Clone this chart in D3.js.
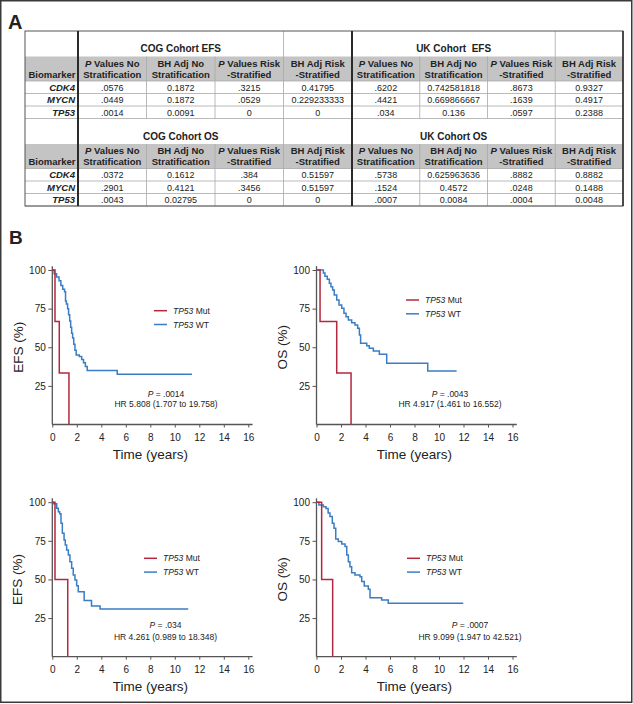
<!DOCTYPE html>
<html><head><meta charset="utf-8">
<script src="https://cdn.jsdelivr.net/npm/d3@7"></script>
<style>
body{margin:0;background:#fff}
svg{display:block}
text{font-family:"Liberation Sans",Arial,sans-serif;fill:#222}
</style>
</head><body>
<svg id="c" width="633" height="704"></svg>
<script>
// ---------- DATA ----------
const biomarkers = ["CDK4", "MYCN", "TP53"];
const colHeaders = [["P Values No", "Stratification"], ["BH Adj No", "Stratification"], ["P Values Risk", "-Stratified"], ["BH Adj Risk", "-Stratified"]];
const italicP = [true, false, true, false];
const cohortTitles = [["COG Cohort EFS", "UK Cohort\u00a0 EFS"], ["COG Cohort OS", "UK Cohort OS"]];
const cogEFS = [[".0576", "0.1872", ".3215", "0.41795"], [".0449", "0.1872", ".0529", "0.229233333"], [".0014", "0.0091", "0", "0"]];
const ukEFS = [[".6202", "0.742581818", ".8673", "0.9327"], [".4421", "0.669866667", ".1639", "0.4917"], [".034", "0.136", ".0597", "0.2388"]];
const cogOS = [[".0372", "0.1612", ".384", "0.51597"], [".2901", "0.4121", ".3456", "0.51597"], [".0043", "0.02795", "0", "0"]];
const ukOS = [[".5738", "0.625963636", ".8882", "0.8882"], [".1524", "0.4572", ".0248", "0.1488"], [".0007", "0.0084", ".0004", "0.0048"]];

const xTicks = [0, 2, 4, 6, 8, 10, 12, 14, 16];
const yTicks = [25, 50, 75, 100];
const groupNames = ["Mut", "WT"];

// Kaplan-Meier steps: event times (years) and survival (%) after each step; last WT entry = end of follow-up
const efsCogMutT = [0.22, 0.57, 1.36];
const efsCogMutS = [66.7, 33.3, 0];
const efsCogWtT = [0.15, 0.35, 0.55, 0.7, 0.85, 1.0, 1.08, 1.15, 1.25, 1.33, 1.42, 1.5, 1.58, 1.66, 1.75, 1.85, 1.95, 2.2, 2.4, 2.55, 2.7, 2.85, 5.3, 11.4];
const efsCogWtS = [97.5, 95.5, 93, 90, 87.5, 86, 80, 78, 75, 71, 67, 63, 59, 56, 52, 48, 45, 44, 42, 40, 37.5, 35, 32.5, 32.5];

const osCogMutT = [0.29, 1.65, 2.82];
const osCogMutS = [66.7, 33.3, 0];
const osCogWtT = [0.56, 0.69, 0.88, 1.05, 1.18, 1.32, 1.45, 1.65, 1.84, 2.06, 2.24, 2.41, 2.6, 2.87, 3.14, 3.36, 3.5, 3.6, 4.1, 4.31, 4.64, 5.13, 5.73, 9.08, 11.44];
const osCogWtS = [98, 96, 94, 91.4, 89.2, 87, 83.8, 80.6, 77.4, 75.2, 72, 69.8, 67.7, 65.9, 64.4, 62.3, 58, 52.6, 50.9, 49.4, 47.6, 45.5, 39.7, 34.7, 34.7];

const efsUkMutT = [0.22, 1.26];
const efsUkMutS = [50, 0];
const efsUkWtT = [0.1, 0.36, 0.49, 0.6, 0.71, 0.82, 0.96, 1.06, 1.17, 1.31, 1.44, 1.58, 1.71, 1.85, 1.99, 2.12, 2.6, 3.2, 3.9, 11.1];
const efsUkWtS = [99, 96.1, 93.9, 92.5, 86.4, 79.9, 75.6, 72.3, 69.1, 65.9, 61.5, 57.2, 52.9, 49.7, 46, 42, 36.3, 32.8, 30.9, 30.9];

const osUkMutT = [0.42, 1.32];
const osUkMutS = [50, 0];
const osUkWtT = [0.2, 0.56, 0.78, 0.95, 1.1, 1.29, 1.43, 1.57, 1.78, 2.06, 2.33, 2.47, 2.6, 2.73, 2.87, 3.14, 3.55, 3.69, 3.9, 4.23, 4.37, 5.32, 5.86, 11.98];
const osUkWtS = [98.2, 97.1, 96, 93, 90.7, 86.4, 83.2, 76.2, 74.5, 73, 71.3, 65.9, 61.5, 58.3, 54.4, 52.9, 51.8, 48.6, 45.8, 43.6, 38.2, 36.7, 34.6, 34.6];

const plotYLabels = ["EFS (%)", "OS (%)", "EFS (%)", "OS (%)"];
const plotP = [".0014", ".0043", ".034", ".0007"];
const plotHR = ["HR 5.808 (1.707 to 19.758)", "HR 4.917 (1.461 to 16.552)", "HR 4.261 (0.989 to 18.348)", "HR 9.099 (1.947 to 42.521)"];

// ---------- DRAW ----------
const svg = d3.select("#c");
const RED = "#b3283e", BLUE = "#3a7dc2";

svg.append("rect").attr("x", 0.75).attr("y", 0.75).attr("width", 631).attr("height", 701.5)
  .attr("fill", "#fff").attr("stroke", "#3a3a3a").attr("stroke-width", 1.5);

svg.append("text").attr("x", 8).attr("y", 29).attr("font-size", 20).attr("font-weight", "bold").text("A");
svg.append("text").attr("x", 9).attr("y", 244).attr("font-size", 19).attr("font-weight", "bold").text("B");

// ---- table ----
const T = {left: 25, bio: 78, mid: 352, right: 623, top: 31, titleH: 25.5, headH: 24.5, rowH: 12.5};
const cogX = d3.scaleBand().domain(d3.range(4)).range([T.bio, T.mid]);
const ukX = d3.scaleBand().domain(d3.range(4)).range([T.mid, T.right]);
const sections = [[cogEFS, ukEFS], [cogOS, ukOS]];
const secH = T.titleH + T.headH + T.rowH * biomarkers.length;
const tbl = svg.append("g");

sections.forEach((sec, si) => {
  const top = T.top + si * secH;
  const hTop = top + T.titleH;
  const dTop = hTop + T.headH;
  tbl.append("rect").attr("x", T.left).attr("y", hTop).attr("width", T.right - T.left).attr("height", T.headH).attr("fill", "#c4c4c4");
  // horizontal lines
  d3.range(biomarkers.length + 1).forEach(i => {
    tbl.append("line").attr("x1", T.left).attr("x2", T.right)
      .attr("y1", dTop + i * T.rowH).attr("y2", dTop + i * T.rowH)
      .attr("stroke", "#a8a8a8").attr("stroke-width", 0.8);
  });
  [cogX, ukX].forEach((xs, ci) => {
    // vertical lines in header + data
    d3.range(1, 4).forEach(k => {
      const x = xs(k);
      tbl.append("line").attr("x1", x).attr("x2", x).attr("y1", k === 3 ? top : hTop).attr("y2", dTop + biomarkers.length * T.rowH)
        .attr("stroke", "#a8a8a8").attr("stroke-width", 0.8);
    });
    // title
    tbl.append("text").attr("x", (xs(0) + xs(3)) / 2).attr("y", top + 21).attr("text-anchor", "middle")
      .attr("font-size", 10).attr("font-weight", "bold").text(cohortTitles[si][ci]);
    // headers
    colHeaders.forEach((h, k) => {
      const cx = xs(k) + xs.bandwidth() / 2;
      const t1 = tbl.append("text").attr("x", cx).attr("y", hTop + 10).attr("text-anchor", "middle")
        .attr("font-size", 9.5).attr("font-weight", "bold");
      if (italicP[k]) {
        t1.append("tspan").attr("font-style", "italic").text("P");
        t1.append("tspan").text(h[0].slice(1));
      } else t1.text(h[0]);
      tbl.append("text").attr("x", cx).attr("y", hTop + 21).attr("text-anchor", "middle")
        .attr("font-size", 9.5).attr("font-weight", "bold").text(h[1]);
    });
    // data
    sec[ci].forEach((row, ri) => {
      row.forEach((v, k) => {
        tbl.append("text").attr("x", xs(k) + xs.bandwidth() / 2).attr("y", dTop + ri * T.rowH + 9.7)
          .attr("text-anchor", "middle").attr("font-size", 9).text(v);
      });
    });
  });
  tbl.append("text").attr("x", (T.left + T.bio) / 2 + 0.5).attr("y", hTop + 21).attr("text-anchor", "middle")
    .attr("font-size", 9.5).attr("font-weight", "bold").text("Biomarker");
  biomarkers.forEach((b, ri) => {
    tbl.append("text").attr("x", T.bio - 3).attr("y", dTop + ri * T.rowH + 9.7).attr("text-anchor", "end")
      .attr("font-size", 9.5).attr("font-weight", "bold").attr("font-style", "italic").text(b);
  });
});
const tBottom = T.top + 2 * secH;
tbl.append("rect").attr("x", T.left).attr("y", T.top).attr("width", T.right - T.left).attr("height", tBottom - T.top)
  .attr("fill", "none").attr("stroke", "#555").attr("stroke-width", 1);
tbl.append("line").attr("x1", T.right).attr("x2", T.right).attr("y1", T.top).attr("y2", tBottom).attr("stroke", "#333").attr("stroke-width", 1.6);
[T.bio, T.mid].forEach(x => {
  tbl.append("line").attr("x1", x).attr("x2", x).attr("y1", T.top).attr("y2", tBottom).attr("stroke", "#2a2a2a").attr("stroke-width", 2);
});

// ---- KM plots ----
const plots = [
  {x0: 52.3, y0: 424.5, mut: [efsCogMutT, efsCogMutS], wt: [efsCogWtT, efsCogWtS], lx: 154, ly: 310.7, pcx: 166, py: 396.8, hy: 407.4, ylx: 18},
  {x0: 316.5, y0: 424.5, mut: [osCogMutT, osCogMutS], wt: [osCogWtT, osCogWtS], lx: 406, ly: 300, pcx: 450, py: 396.8, hy: 407.4, ylx: 282},
  {x0: 52.3, y0: 656.7, mut: [efsUkMutT, efsUkMutS], wt: [efsUkWtT, efsUkWtS], lx: 144, ly: 558.3, pcx: 165.5, py: 628.2, hy: 640.4, ylx: 17},
  {x0: 316.5, y0: 656.7, mut: [osUkMutT, osUkMutS], wt: [osUkWtT, osUkWtS], lx: 407, ly: 558.3, pcx: 470, py: 628.4, hy: 640.4, ylx: 282}
];
const W = 196, H = 154.5;

plots.forEach((p, i) => {
  const x = d3.scaleLinear().domain([0, 16]).range([p.x0, p.x0 + W]);
  const y = d3.scaleLinear().domain([0, 100]).range([p.y0, p.y0 - H]);
  const g = svg.append("g");

  const xa = g.append("g").attr("transform", `translate(0,${p.y0})`)
    .call(d3.axisBottom(x).tickValues(xTicks).tickSize(3).tickSizeOuter(0).tickPadding(6));
  const ya = g.append("g").attr("transform", `translate(${p.x0},0)`)
    .call(d3.axisLeft(y).tickValues(yTicks).tickSize(4).tickSizeOuter(0).tickPadding(2.5));
  [xa, ya].forEach(a => {
    a.select(".domain").remove();
    a.selectAll("line").attr("stroke", "#555").attr("stroke-width", 1);
    a.selectAll("text").attr("font-size", 10).attr("fill", "#222").attr("font-family", "'Liberation Sans',Arial,sans-serif");
  });
  g.append("line").attr("x1", x(0)).attr("x2", x(16.35)).attr("y1", y(0)).attr("y2", y(0)).attr("stroke", "#555").attr("stroke-width", 1.3);
  g.append("line").attr("x1", x(0)).attr("x2", x(0)).attr("y1", y(0)).attr("y2", y(102.5)).attr("stroke", "#555").attr("stroke-width", 1.3);

  const line = d3.line().x(d => x(d[0])).y(d => y(d[1])).curve(d3.curveStepAfter);
  const toPts = (ts, ss) => [[0, 100]].concat(ts.map((t, k) => [t, ss[k]]));
  g.append("path").attr("d", line(toPts(p.wt[0], p.wt[1]))).attr("fill", "none").attr("stroke", BLUE).attr("stroke-width", 1.5);
  g.append("path").attr("d", line(toPts(p.mut[0], p.mut[1]))).attr("fill", "none").attr("stroke", RED).attr("stroke-width", 1.5);

  // legend
  [RED, BLUE].forEach((c, k) => {
    const ly = p.ly + k * 13.8;
    g.append("line").attr("x1", p.lx).attr("x2", p.lx + 13).attr("y1", ly).attr("y2", ly).attr("stroke", c).attr("stroke-width", 1.5);
    const t = g.append("text").attr("x", p.lx + 19).attr("y", ly + 3).attr("font-size", 8.5);
    t.append("tspan").attr("font-style", "italic").text("TP53");
    t.append("tspan").text(" " + groupNames[k]);
  });

  // annotation
  const pt = g.append("text").attr("x", p.pcx).attr("y", p.py).attr("text-anchor", "middle").attr("font-size", 8.5);
  pt.append("tspan").attr("font-style", "italic").text("P");
  pt.append("tspan").text(" = " + plotP[i]);
  g.append("text").attr("x", p.pcx).attr("y", p.hy).attr("text-anchor", "middle").attr("font-size", 8.5).text(plotHR[i]);

  // axis titles
  g.append("text").attr("transform", `translate(${p.ylx},${p.y0 - H / 2}) rotate(-90)`).attr("dy", "0.35em")
    .attr("text-anchor", "middle").attr("font-size", 13.5).text(plotYLabels[i]);
  g.append("text").attr("x", p.x0 + W / 2).attr("y", p.y0 + 34).attr("text-anchor", "middle")
    .attr("font-size", 13.5).text("Time (years)");
});
</script>
</body></html>
